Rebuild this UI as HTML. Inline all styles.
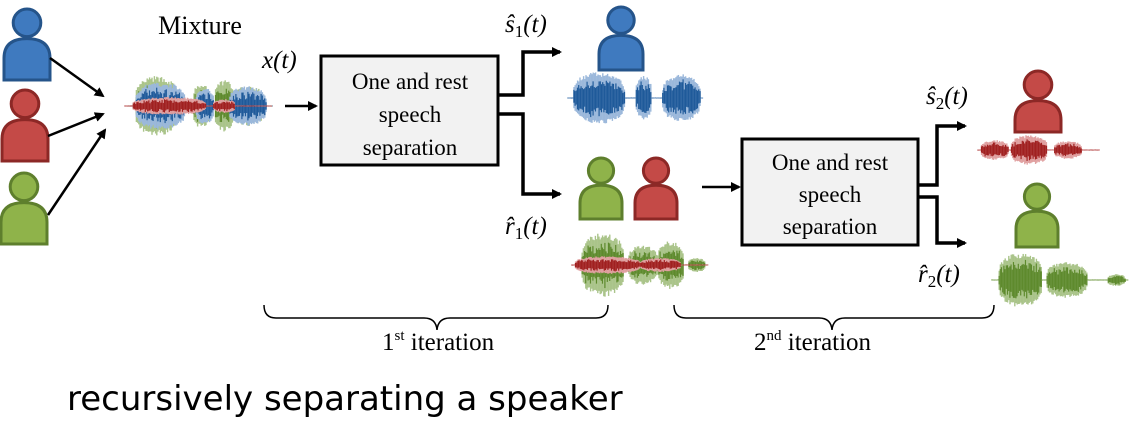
<!DOCTYPE html>
<html><head><meta charset="utf-8"><style>
html,body{margin:0;padding:0;background:#fff;}
svg{display:block;}
.serif{font-family:"Liberation Serif",serif;}
</style></head><body>
<svg id="s" width="1135" height="425" viewBox="0 0 1135 425" xmlns="http://www.w3.org/2000/svg">
<defs>
<marker id="ah" markerWidth="10" markerHeight="10" refX="8" refY="5" orient="auto" markerUnits="userSpaceOnUse"><path d="M0,0 L10,5 L0,10 z" fill="#000"/></marker>
</defs>
<g id="waves"></g>
<g id="people"></g>
<g stroke="#000" stroke-width="2.5" fill="none">
<line x1="50" y1="58" x2="103" y2="96" marker-end="url(#ah)"/>
<line x1="48" y1="136" x2="103" y2="114" marker-end="url(#ah)"/>
<line x1="48" y1="215" x2="105" y2="130" marker-end="url(#ah)"/>
<line x1="285" y1="106" x2="316" y2="106" marker-end="url(#ah)"/>
<polyline points="498,95 523,95 523,52 560,52" marker-end="url(#ah)" stroke-width="3.5"/>
<polyline points="498,114 523,114 523,194 560,194" marker-end="url(#ah)" stroke-width="3.5"/>
<line x1="702" y1="187" x2="739" y2="187" marker-end="url(#ah)"/>
<polyline points="918,185 937,185 937,126 965,126" marker-end="url(#ah)" stroke-width="3.5"/>
<polyline points="918,197 937,197 937,243 965,243" marker-end="url(#ah)" stroke-width="3.5"/>
</g>
<rect x="321" y="56" width="177" height="109" fill="#f2f2f2" stroke="#000" stroke-width="3"/>
<rect x="742" y="139" width="176" height="106" fill="#f2f2f2" stroke="#000" stroke-width="3"/>
<g class="serif" font-size="23" text-anchor="middle" fill="#000">
<text x="410" y="89">One and rest</text>
<text x="410" y="122">speech</text>
<text x="410" y="155">separation</text>
<text x="830" y="170">One and rest</text>
<text x="830" y="202">speech</text>
<text x="830" y="234">separation</text>
<text x="200" y="34" font-size="26">Mixture</text>
</g>
<g class="serif" font-size="25" font-style="italic" fill="#000">
<text x="262" y="68">x(t)</text>
<text x="505" y="32">ŝ<tspan font-style="normal" font-size="17" dy="5">1</tspan><tspan dy="-5">(t)</tspan></text>
<text x="505" y="234">r̂<tspan font-style="normal" font-size="17" dy="5">1</tspan><tspan dy="-5">(t)</tspan></text>
<text x="926" y="104">ŝ<tspan font-style="normal" font-size="17" dy="5">2</tspan><tspan dy="-5">(t)</tspan></text>
<text x="918" y="282">r̂<tspan font-style="normal" font-size="17" dy="5">2</tspan><tspan dy="-5">(t)</tspan></text>
</g>
<g stroke="#000" stroke-width="1.5" fill="none">
<path d="M264,305 Q264,318 276,318 L424,318 Q436,318 437,330 Q438,318 450,318 L596,318 Q608,318 608,305"/>
<path d="M674,305 Q674,318 686,318 L819,318 Q831,318 832,330 Q833,318 845,318 L982,318 Q994,318 994,305"/>
</g>
<g class="serif" font-size="25" fill="#000">
<text x="382" y="350">1<tspan font-size="15" dy="-10">st</tspan><tspan dy="10"> iteration</tspan></text>
<text x="754" y="350">2<tspan font-size="15" dy="-10">nd</tspan><tspan dy="10"> iteration</tspan></text>
</g>
<text x="67" y="410" font-family="'DejaVu Sans','Liberation Sans',sans-serif" font-size="34" fill="#000">recursively separating a speaker</text>
</svg>
<script>
var NS="http://www.w3.org/2000/svg";
function el(p,t,a){var e=document.createElementNS(NS,t);for(var k in a)e.setAttribute(k,a[k]);p.appendChild(e);return e;}
var P=document.getElementById('people');
function person(cx,top,w,h,fill,stroke){
  var r=w*0.3;
  el(P,'circle',{cx:cx,cy:top+r+1,r:r,fill:fill,stroke:stroke,'stroke-width':3});
  var bt=top+2*r+3,bw=w/2,rr=bw*0.85;
  el(P,'path',{d:'M'+(cx-bw)+','+(top+h)+' L'+(cx-bw)+','+(bt+rr)+' Q'+(cx-bw)+','+bt+' '+cx+','+bt+' Q'+(cx+bw)+','+bt+' '+(cx+bw)+','+(bt+rr)+' L'+(cx+bw)+','+(top+h)+' z',fill:fill,stroke:stroke,'stroke-width':3});
}
var B=['#3f7abf','#25548a'],R=['#c44a47','#8c2826'],G=['#8fb34a','#5e7f2d'];
person(27,8,46,72,B[0],B[1]);
person(25,89,46,72,R[0],R[1]);
person(24,172,46,72,G[0],G[1]);
person(621,6,44,64,B[0],B[1]);
person(601,157,42,62,G[0],G[1]);
person(656,157,42,62,R[0],R[1]);
person(1038,70,46,62,R[0],R[1]);
person(1037,183,42,64,G[0],G[1]);
var W=document.getElementById('waves');
var seed=7;function rnd(){seed=(seed*16807)%2147483647;return seed/2147483647;}
function wave(x0,x1,cy,env,col,light){
  for(var x=x0;x<x1;x+=1.2){
    var t=(x-x0)/(x1-x0),a=env(t);
    var up=a*(0.8+0.2*rnd()),dn=a*(0.8+0.2*rnd());
    el(W,'line',{x1:x,y1:cy-up,x2:x,y2:cy+dn,stroke:light,'stroke-width':1.4});
    var up2=up*(0.4+0.4*rnd()),dn2=dn*(0.4+0.4*rnd());
    el(W,'line',{x1:x,y1:cy-up2,x2:x,y2:cy+dn2,stroke:col,'stroke-width':1.4});
  }
}
function bumps(list){return function(t){var v=0.6;for(var i=0;i<list.length;i++){var b=list[i];if(t>=b[0]&&t<=b[1]){var u=(t-b[0])/(b[1]-b[0]);v=Math.max(v,b[2]*Math.pow(Math.sin(Math.PI*u),0.25));}}return v;};}
wave(128,272,106,bumps([[0.05,0.35,30],[0.45,0.57,22],[0.6,0.74,26],[0.72,0.95,20]]),'#5e8a2d','#aac48a');
wave(128,272,106,bumps([[0.05,0.4,24],[0.47,0.6,18],[0.7,0.96,20]]),'#1f5a9a','#9bb8db');
wave(125,272,106,bumps([[0.05,0.55,9],[0.6,0.75,7]]),'#a02020','#e0a0a0');
wave(568,703,98,bumps([[0.04,0.42,26],[0.5,0.62,22],[0.7,0.98,24]]),'#1f5a9a','#9bb8db');
wave(575,708,265,bumps([[0.05,0.37,32],[0.4,0.62,20],[0.62,0.82,24],[0.85,0.98,7]]),'#5e8a2d','#aac48a');
wave(572,708,265,bumps([[0.02,0.5,9],[0.5,0.8,7]]),'#a02020','#e0a0a0');
wave(978,1100,150,bumps([[0.02,0.25,10],[0.27,0.57,15],[0.62,0.85,9]]),'#a02020','#e0a0a0');
wave(992,1128,280,bumps([[0.05,0.37,27],[0.4,0.7,18],[0.85,0.98,6]]),'#5e8a2d','#aac48a');
</script>
</body></html>
